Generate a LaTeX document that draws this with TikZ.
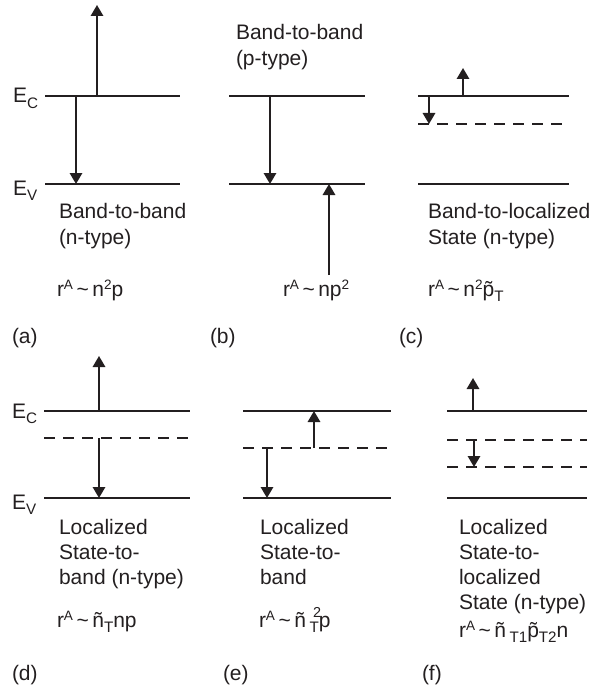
\documentclass[tikz,border=0pt]{standalone}
\usepackage{fontspec}
\setmainfont{Liberation Sans}
\usetikzlibrary{arrows.meta}
\definecolor{ink}{HTML}{231F20}
\newcommand\myup[1]{\raisebox{0.32em}{\fontsize{6.8}{7}\selectfont #1}}
\newcommand\mydn[1]{\raisebox{-0.28em}{\fontsize{7.6}{8}\selectfont #1}}
\newcommand\myhi[1]{\raisebox{0.47em}{\fontsize{7.2}{7}\selectfont #1}}
\begin{document}
\begin{tikzpicture}[x=0.5pt,y=-0.5pt,
  level/.style={line width=0.85pt, draw=ink},
  trap/.style={level, dash pattern=on 5.5pt off 4pt},
  trans/.style={line width=0.95pt, draw=ink, -{Triangle[length=5.5pt,width=6.2pt]}},
  txt/.style={anchor=base west, inner sep=0pt, outer sep=0pt, font=\fontsize{10.5}{13}\selectfont, text=ink},
]
\useasboundingbox (0,0) rectangle (593,690);

% ---------- (a)
\coordinate (aC1) at (45,96);  \coordinate (aC2) at (180,96);
\coordinate (aV1) at (45,184); \coordinate (aV2) at (180,184);
\draw[level] (aC1) -- (aC2);
\draw[level] (aV1) -- (aV2);
\coordinate (aU0) at (97,96); \coordinate (aU1) at (97,5);
\coordinate (aD0) at (76,96); \coordinate (aD1) at (76,184);
\draw[trans] (aU0) -- (aU1);
\draw[trans] (aD0) -- (aD1);
\node[txt] (aEC) at (13,103) {E\mydn{C}};
\node[txt] (aEV) at (13,195) {E\mydn{V}};
\node[txt] (aT1) at (59,218) {Band-to-band};
\node[txt] (aT2) at (59,244) {(n-type)};
\node[txt] (aR)  at (57,296) {r\myup{A}\,\textasciitilde\,n\myup{2}p};
\node[txt] (aL)  at (12,343) {(a)};

% ---------- (b)
\coordinate (bC1) at (229,96);  \coordinate (bC2) at (365,96);
\coordinate (bV1) at (229,184); \coordinate (bV2) at (365,184);
\draw[level] (bC1) -- (bC2);
\draw[level] (bV1) -- (bV2);
\coordinate (bD0) at (270,96);  \coordinate (bD1) at (270,184);
\coordinate (bU0) at (329,275); \coordinate (bU1) at (329,184);
\draw[trans] (bD0) -- (bD1);
\draw[trans] (bU0) -- (bU1);
\node[txt] (bT1) at (236,40) {Band-to-band};
\node[txt] (bT2) at (236,66) {(p-type)};
\node[txt] (bR)  at (283,296) {r\myup{A}\,\textasciitilde\,np\myup{2}};
\node[txt] (bL)  at (210,343) {(b)};

% ---------- (c)
\coordinate (cC1) at (418,96);  \coordinate (cC2) at (569,96);
\coordinate (cT1) at (418,124); \coordinate (cT2) at (569,124);
\coordinate (cV1) at (418,184); \coordinate (cV2) at (569,184);
\draw[level] (cC1) -- (cC2);
\draw[trap]  (cT1) -- (cT2);
\draw[level] (cV1) -- (cV2);
\coordinate (cU0) at (463,96); \coordinate (cU1) at (463,68);
\coordinate (cD0) at (429,96); \coordinate (cD1) at (429,124);
\draw[trans] (cU0) -- (cU1);
\draw[trans] (cD0) -- (cD1);
\node[txt] (cT1n) at (428,218) {Band-to-localized};
\node[txt] (cT2n) at (428,244) {State (n-type)};
\node[txt] (cR)   at (428,296) {r\myup{A}\,\textasciitilde\,n\myup{2}p̃\mydn{T}};
\node[txt] (cL)   at (399,343) {(c)};

% ---------- (d)
\coordinate (dC1) at (44,411);  \coordinate (dC2) at (190,411);
\coordinate (dT1) at (44,438);  \coordinate (dT2) at (190,438);
\coordinate (dV1) at (44,498);  \coordinate (dV2) at (190,498);
\draw[level] (dC1) -- (dC2);
\draw[trap]  (dT1) -- (dT2);
\draw[level] (dV1) -- (dV2);
\coordinate (dU0) at (99,411); \coordinate (dU1) at (99,356);
\coordinate (dD0) at (99,438); \coordinate (dD1) at (99,498);
\draw[trans] (dU0) -- (dU1);
\draw[trans] (dD0) -- (dD1);
\node[txt] (dEC) at (12,418) {E\mydn{C}};
\node[txt] (dEV) at (12,509) {E\mydn{V}};
\node[txt] (dT1n) at (59,534) {Localized};
\node[txt] (dT2n) at (59,559) {State-to-};
\node[txt] (dT3n) at (59,584) {band (n-type)};
\node[txt] (dR)   at (57,627) {r\myup{A}\,\textasciitilde\,ñ\mydn{T}np};
\node[txt] (dL)   at (12,680) {(d)};

% ---------- (e)
\coordinate (eC1) at (243,411); \coordinate (eC2) at (391,411);
\coordinate (eT1) at (243,448); \coordinate (eT2) at (391,448);
\coordinate (eV1) at (243,498); \coordinate (eV2) at (391,498);
\draw[level] (eC1) -- (eC2);
\draw[trap]  (eT1) -- (eT2);
\draw[level] (eV1) -- (eV2);
\coordinate (eU0) at (314,448); \coordinate (eU1) at (314,411);
\coordinate (eD0) at (267,448); \coordinate (eD1) at (267,498);
\draw[trans] (eU0) -- (eU1);
\draw[trans] (eD0) -- (eD1);
\node[txt] (eT1n) at (260,534) {Localized};
\node[txt] (eT2n) at (260,559) {State-to-};
\node[txt] (eT3n) at (260,584) {band};
\node[txt] (eR)   at (259,627) {r\myup{A}\,\textasciitilde\,ñ\,\rlap{\,\myhi{2}}\mydn{T}p};
\node[txt] (eL)   at (223,680) {(e)};

% ---------- (f)
\coordinate (fC1) at (447,411); \coordinate (fC2) at (587,411);
\coordinate (fA1) at (447,440); \coordinate (fA2) at (587,440);
\coordinate (fB1) at (447,467); \coordinate (fB2) at (587,467);
\coordinate (fV1) at (447,498); \coordinate (fV2) at (587,498);
\draw[level] (fC1) -- (fC2);
\draw[trap]  (fA1) -- (fA2);
\draw[trap]  (fB1) -- (fB2);
\draw[level] (fV1) -- (fV2);
\coordinate (fU0) at (473,411); \coordinate (fU1) at (473,378);
\coordinate (fD0) at (474,440); \coordinate (fD1) at (474,467);
\draw[trans] (fU0) -- (fU1);
\draw[trans] (fD0) -- (fD1);
\node[txt] (fT1n) at (459,534) {Localized};
\node[txt] (fT2n) at (459,559) {State-to-};
\node[txt] (fT3n) at (459,584) {localized};
\node[txt] (fT4n) at (459,609) {State (n-type)};
\node[txt] (fR)   at (459,637) {r\myup{A}\,\textasciitilde\,ñ\,\mydn{T1}p̃\mydn{T2}n};
\node[txt] (fL)   at (422,680) {(f)};
\end{tikzpicture}
\end{document}
